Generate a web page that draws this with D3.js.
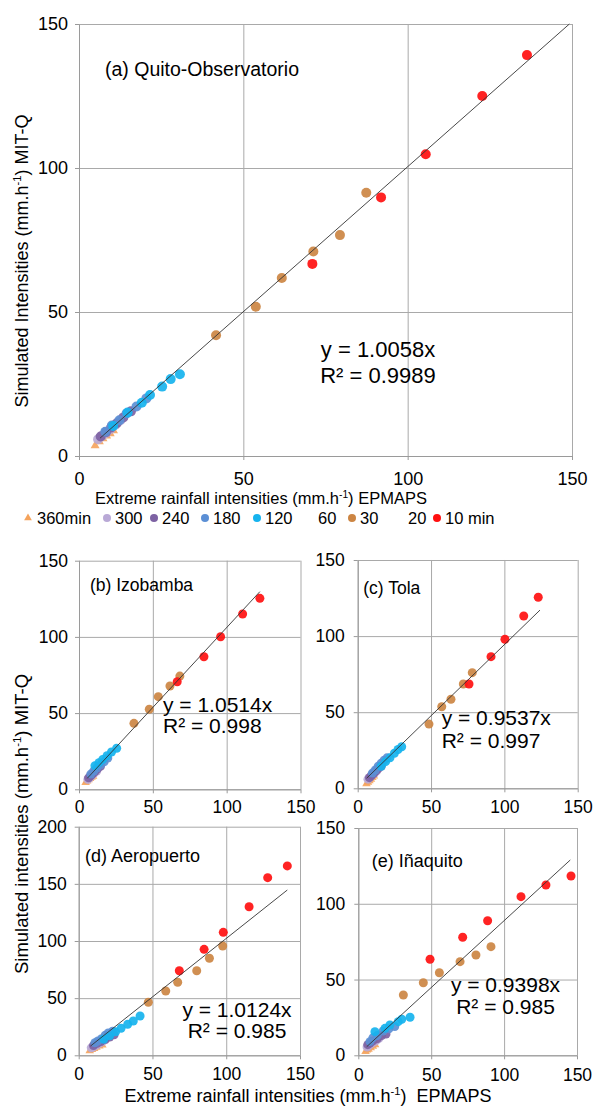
<!DOCTYPE html>
<html>
<head>
<meta charset="utf-8">
<script src="https://cdn.jsdelivr.net/npm/d3@7"></script>
<style>
  body { margin: 0; background: #fff; }
  text { font-family: "Liberation Sans", Arial, sans-serif; fill: #000; }
</style>
</head>
<body>
<svg id="chart" width="595" height="1107"></svg>
<script>
// durations (legend order = drawing order)
const durations = ["360min", "300", "240", "180", "120", "60", "30", "20", "10 min"];
const colors = ["#f5a35c", "#b9a9d6", "#7d62a3", "#5b8fd5", "#16b3ee", null, "#cc8543", null, "#ff1010"];

// per station: one list per duration, [extreme EPMAPS, simulated MIT-Q]
const quito = [
  [[4.9,3.6],[6.2,5.0],[7.3,6.0],[8.4,7.0],[9.5,7.8],[10.5,8.8]],
  [[5.8,5.8],[7.0,7.0],[8.2,8.0],[9.5,9.3],[11.0,10.8],[12.6,12.4]],
  [[6.6,6.8],[8.2,8.3],[9.8,9.9],[11.5,11.4],[13.5,13.4],[15.8,15.5]],
  [[8.0,8.4],[10.0,10.6],[12.3,12.4],[14.5,14.8],[17.5,17.2],[20.5,20.0]],
  [[10.4,10.4],[14.8,15.1],[19.1,18.5],[21.6,21.2],[25.3,24.1],[27.9,26.7],[30.7,28.4]],
  [],
  [[41.7,41.9],[53.8,51.8],[61.7,61.8],[71.3,71.0],[79.4,76.7],[87.4,91.4]],
  [],
  [[71.0,66.7],[91.9,89.8],[105.5,104.8],[122.7,125.0],[136.3,139.2]]
];
const izobamba = [
  [[4.5,4.5],[5.5,5.5],[6.5,6.2],[7.5,7.0],[8.5,7.8],[9.5,8.6]],
  [[6.0,6.5],[7.0,7.5],[8.0,8.5],[9.0,9.5],[10.5,10.8],[12.0,12.0]],
  [[6.5,7.5],[8.0,9.0],[9.5,10.5],[11.0,12.0],[12.5,13.5],[14.5,15.0]],
  [[8.0,10.0],[10.0,12.0],[12.0,14.0],[14.5,16.0],[17.0,18.0],[19.5,20.5]],
  [[10.8,15.5],[13.5,17.5],[16.0,19.5],[19.0,22.0],[22.0,24.5],[25.5,26.9]],
  [],
  [[37.2,43.3],[47.6,52.5],[53.7,60.8],[61.6,67.8],[68.3,74.3]],
  [],
  [[66.5,70.6],[84.6,87.0],[95.9,100.1],[110.8,115.0],[122.5,125.3]]
];
const tola = [
  [[6.0,3.0],[7.0,4.0],[8.0,5.0],[9.0,6.0],[10.0,7.0],[11.0,8.0]],
  [[7.0,6.0],[8.0,7.0],[9.0,8.0],[10.0,9.0],[11.5,10.0],[13.0,11.5]],
  [[8.0,7.0],[9.5,8.5],[11.0,10.0],[12.5,11.5],[14.0,13.0],[16.0,14.5]],
  [[10.0,10.0],[12.0,12.0],[14.0,14.5],[16.0,16.5],[18.0,18.5],[20.0,20.0]],
  [[16.0,14.5],[19.0,17.5],[22.0,20.0],[25.0,23.0],[27.5,25.5],[30.0,27.3]],
  [],
  [[48.6,42.2],[57.3,53.6],[63.6,58.5],[72.0,68.5],[78.1,76.0]],
  [],
  [[75.9,68.5],[90.9,86.5],[100.4,97.9],[113.2,113.2],[123.1,125.5]]
];
const aeropuerto = [
  [[7.5,4.0],[9.0,5.0],[10.5,6.0],[12.0,7.0],[14.0,8.0],[16.0,9.0]],
  [[8.5,6.5],[10.0,7.5],[12.0,9.0],[14.0,10.5],[16.0,12.0],[18.0,13.5]],
  [[10.0,8.5],[12.5,10.5],[15.0,12.0],[18.0,14.0],[21.0,16.0],[24.0,18.0]],
  [[11.0,11.0],[13.0,12.5],[15.5,14.5],[18.0,17.5],[20.0,19.5],[23.0,21.0]],
  [[17.0,14.0],[21.0,17.0],[25.0,20.5],[28.7,23.6],[33.2,27.1],[37.0,30.0],[41.6,34.4]],
  [],
  [[47.2,46.4],[59.0,56.3],[67.1,63.9],[80.0,74.0],[88.6,84.9],[97.6,95.6]],
  [],
  [[68.2,74.0],[85.0,92.7],[98.0,107.6],[115.5,130.0],[128.1,155.4],[141.4,165.7]]
];
const inaquito = [
  [[5.0,2.5],[6.0,3.5],[7.0,4.0],[8.5,5.0],[10.0,6.0],[11.5,7.0]],
  [[6.0,5.5],[7.0,6.5],[8.5,7.5],[10.0,8.5],[12.0,9.5],[14.0,11.0]],
  [[6.5,7.0],[8.0,8.0],[10.0,9.5],[13.0,11.0],[16.0,13.0],[19.0,14.0]],
  [[8.0,9.0],[10.0,11.5],[13.0,13.0],[17.0,16.0],[21.0,17.5],[25.0,19.0]],
  [[11.4,15.6],[18.3,17.8],[21.7,20.0],[27.4,22.2],[29.8,23.8],[35.5,25.1]],
  [],
  [[30.9,39.8],[44.6,47.9],[55.6,54.5],[69.8,61.8],[80.7,66.2],[91.0,71.7]],
  [],
  [[49.2,63.4],[71.6,77.9],[88.7,88.8],[111.6,104.7],[128.7,112.4],[145.9,118.3]]
];

const stationData = [quito, izobamba, tola, aeropuerto, inaquito];
const stationNames = ["(a) Quito-Observatorio", "(b) Izobamba", "(c) Tola", "(d) Aeropuerto", "(e) Iñaquito"];
const slopes = ["1.0058", "1.0514", "0.9537", "1.0124", "0.9398"];
const r2Values = ["0.9989", "0.998", "0.997", "0.985", "0.985"];
const xTicks = [0, 50, 100, 150];
const yTickSets = [[0, 50, 100, 150], [0, 50, 100, 150], [0, 50, 100, 150], [0, 50, 100, 150, 200], [0, 50, 100, 150]];
// trend line ends as drawn in the picture: [start, end] in data units
const trendEnds = [
  [[6.4, 6.2], [149.2, 150.0]],
  [[5.6, 7.2], [122.5, 129.7]],
  [[6.1, 6.6], [124.3, 117.1]],
  [[8.0, 8.1], [141.4, 144.6]],
  [[5.8, 5.7], [145.4, 128.9]]
];

// layout per panel
const boxes = [
  {x0: 79, x1: 572, y0: 24, y1: 456, r: 5, tf: 18, xPad: 12, yPad: 7, title: [105, 76, 19.5], eq: [378, 356.7, 382.7, "middle", 22]},
  {x0: 79, x1: 300.5, y0: 560.7, y1: 789.3, r: 4.5, tf: 17.5, xPad: 7, yPad: 7, title: [90, 590.7, 17.5], eq: [163, 711.7, 733.3, "start", 21]},
  {x0: 357.7, x1: 577.7, y0: 560, y1: 788.3, r: 4.5, tf: 17.5, xPad: 8, yPad: 9, title: [363.3, 594, 17.5], eq: [441.7, 725, 748.3, "start", 21]},
  {x0: 78.7, x1: 300, y0: 826.7, y1: 1055.3, r: 4.5, tf: 17.5, xPad: 8.5, yPad: 8, title: [85, 861.7, 18], eq: [237, 1016.7, 1038.3, "middle", 21]},
  {x0: 358.3, x1: 577, y0: 828, y1: 1055.3, r: 4.5, tf: 17.5, xPad: 9.5, yPad: 9, title: [371.7, 866.7, 18], eq: [505.5, 991.7, 1014, "middle", 21]}
];

const svg = d3.select("#chart");
svg.append("rect").attr("width", 595).attr("height", 1107).attr("fill", "#fff");

function drawPanel(i) {
  let b = boxes[i];
  let x = d3.scaleLinear().domain([0, 150]).range([b.x0, b.x1]);
  let y = d3.scaleLinear().domain([0, d3.max(yTickSets[i])]).range([b.y1, b.y0]);
  let g = svg.append("g");

  // gridlines
  g.append("g").attr("transform", `translate(0,${b.y1})`)
    .call(d3.axisBottom(x).tickValues(xTicks).tickSize(-(b.y1 - b.y0)).tickFormat(""))
    .call(a => a.select(".domain").remove())
    .selectAll("line").attr("stroke", "#a9a9a9");
  g.append("g").attr("transform", `translate(${b.x0},0)`)
    .call(d3.axisLeft(y).tickValues(yTickSets[i]).tickSize(-(b.x1 - b.x0)).tickFormat(""))
    .call(a => a.select(".domain").remove())
    .selectAll("line").attr("stroke", "#a9a9a9");

  // axes
  let ax = g.append("g").attr("transform", `translate(0,${b.y1})`)
    .call(d3.axisBottom(x).tickValues(xTicks).tickSizeInner(4).tickSizeOuter(0).tickPadding(b.xPad));
  let ay = g.append("g").attr("transform", `translate(${b.x0},0)`)
    .call(d3.axisLeft(y).tickValues(yTickSets[i]).tickSizeInner(4).tickSizeOuter(0).tickPadding(b.yPad));
  [ax, ay].forEach(a => {
    a.select(".domain").attr("stroke", "#9a9a9a");
    a.selectAll(".tick line").attr("stroke", "#9a9a9a");
    a.selectAll("text").style("font-size", b.tf + "px").style("font-family", '"Liberation Sans", Arial, sans-serif').attr("fill", "#000");
  });

  // points, series by series
  stationData[i].forEach((pts, s) => {
    if (!colors[s]) return;
    if (s === 0) {
      g.append("g").selectAll("path").data(pts).enter().append("path")
        .attr("d", d3.symbol().type(d3.symbolTriangle).size(b.r * 7))
        .attr("transform", d => `translate(${x(d[0])},${y(d[1])})`)
        .attr("fill", colors[s]).attr("opacity", 0.9);
    } else {
      g.append("g").selectAll("circle").data(pts).enter().append("circle")
        .attr("cx", d => x(d[0])).attr("cy", d => y(d[1])).attr("r", b.r)
        .attr("fill", colors[s]).attr("opacity", 0.92);
    }
  });

  // trend line
  g.append("path")
    .datum(trendEnds[i])
    .attr("d", d3.line().x(d => x(d[0])).y(d => y(d[1])))
    .attr("fill", "none").attr("stroke", "#333").attr("stroke-width", 0.9);

  // labels
  g.append("text").attr("x", b.title[0]).attr("y", b.title[1])
    .style("font-size", b.title[2] + "px").text(stationNames[i]);
  let eq = g.append("text").attr("text-anchor", b.eq[3]).style("font-size", b.eq[4] + "px");
  eq.append("tspan").attr("x", b.eq[0]).attr("y", b.eq[1]).text("y = " + slopes[i] + "x");
  eq.append("tspan").attr("x", b.eq[0]).attr("y", b.eq[2]).text("R² = " + r2Values[i]);
}

for (let i = 0; i < boxes.length; i++) drawPanel(i);

// axis titles with superscript
function unitTitle(x, y, size, pre, post, rotate) {
  let t = svg.append("text").attr("text-anchor", "middle").style("font-size", size + "px");
  if (rotate) t.attr("transform", `translate(${x},${y}) rotate(-90)`);
  else t.attr("transform", `translate(${x},${y})`);
  t.append("tspan").text(pre);
  t.append("tspan").attr("dy", -size * 0.38).style("font-size", (size * 0.62) + "px").text("-1");
  t.append("tspan").attr("dy", size * 0.38).text(post);
}
unitTitle(261, 504, 16.5, "Extreme rainfall intensities (mm.h", ") EPMAPS", false);
unitTitle(28, 261, 18, "Simulated Intensities (mm.h", ") MIT-Q", true);
unitTitle(308, 1102, 18, "Extreme rainfall intensities (mm.h", ")\u00a0 EPMAPS", false);
unitTitle(28, 824, 18.5, "Simulated intensities (mm.h", ") MIT-Q", true);

// legend
const legendTextX = [37, 115, 162, 213, 265, 318, 360, 408, 445];
let leg = svg.append("g");
durations.forEach((d, s) => {
  let tx = legendTextX[s];
  if (colors[s]) {
    if (s === 0) {
      leg.append("path").attr("d", d3.symbol().type(d3.symbolTriangle).size(26))
        .attr("transform", `translate(${tx - 9},${518})`).attr("fill", colors[s]);
    } else {
      leg.append("circle").attr("cx", tx - 8).attr("cy", 518).attr("r", 4).attr("fill", colors[s]);
    }
  }
  leg.append("text").attr("x", tx).attr("y", 524).style("font-size", "16.5px").text(d);
});
</script>
</body>
</html>
